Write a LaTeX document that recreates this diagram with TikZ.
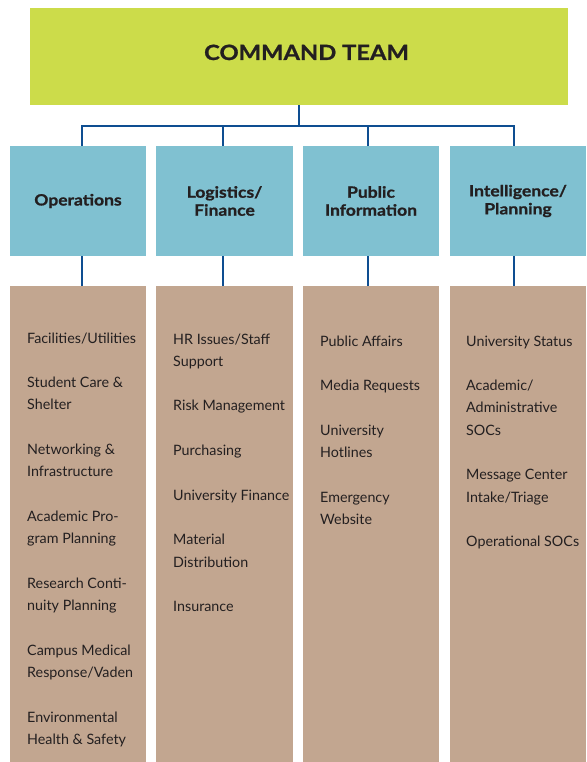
\documentclass[tikz,border=0pt]{standalone}
\usepackage{fontspec}
\setmainfont{Lato}
\newfontfamily\headfont[FakeStretch=1.13,FakeBold=1]{Lato}
\definecolor{lime}{RGB}{204,220,74}
\definecolor{secblue}{RGB}{128,193,209}
\definecolor{tan}{RGB}{194,166,144}
\definecolor{connblue}{RGB}{14,78,145}
\definecolor{ink}{RGB}{35,31,32}
\newcommand\isep{\\[22.3pt]}
\begin{document}
\begin{tikzpicture}[x=1pt,y=-1pt,
  cmdbox/.style={fill=lime, draw=none, inner sep=0, minimum width=538pt, minimum height=97pt},
  secbox/.style={fill=secblue, draw=none, inner sep=0, minimum height=110pt, text=ink, align=center,
    font=\headfont\bfseries\fontsize{15.5}{18}\selectfont},
  listbox/.style={fill=tan, draw=none, inner sep=0, minimum height=476pt},
  items/.style={inner sep=0, anchor=base west, text=ink, font=\fontsize{14.3}{22.3}\selectfont},
  titletext/.style={inner sep=0, anchor=base, text=ink, font=\headfont\bfseries\fontsize{21}{24}\selectfont},
  conn/.style={draw=connblue, line width=2.6pt}
]
\useasboundingbox (0,0) rectangle (586,762);
\fill[white] (0,0) rectangle (586,762);

% command team
\node[cmdbox] (cmd) at (299,56.5) {};
\node[titletext] (cmdtext) at (306.5,60) {COMMAND TEAM};

% section boxes
\node[secbox, minimum width=136pt] (ops) at (78,201) {Operations};
\node[secbox, minimum width=137pt] (log) at (224.5,201) {Logistics/\\Finance};
\node[secbox, minimum width=136pt] (pub) at (371,201) {Public\\Information};
\node[secbox, minimum width=136pt] (int) at (518,201) {Intelligence/\\Planning};

% list boxes
\node[listbox, minimum width=136pt] (opsl) at (78,524) {};
\node[listbox, minimum width=137pt] (logl) at (224.5,524) {};
\node[listbox, minimum width=136pt] (publ) at (371,524) {};
\node[listbox, minimum width=136pt] (intl) at (518,524) {};

% connectors
\draw[conn] (cmd.south) -- ++(0,21) -| ([xshift=4pt]ops.north);
\draw[conn] (cmd.south) -- ++(0,21) -| ([xshift=-1.5pt]log.north);
\draw[conn] (cmd.south) -- ++(0,21) -| ([xshift=-3pt]pub.north);
\draw[conn] (cmd.south) -- ++(0,21) -| ([xshift=-4pt]int.north);
\draw[conn] ([xshift=4pt]ops.south) -- ([xshift=4pt]opsl.north);
\draw[conn] ([xshift=-1.5pt]log.south) -- ([xshift=-1.5pt]logl.north);
\draw[conn] ([xshift=-3pt]pub.south) -- ([xshift=-3pt]publ.north);
\draw[conn] ([xshift=-4pt]int.south) -- ([xshift=-4pt]intl.north);

% list texts
\node[items] (opsitems) at (27,343) {\parbox[t]{160pt}{\raggedright
Facilities/Utilities\isep
Student Care \&\\Shelter\isep
Networking \&\\Infrastructure\isep
Academic Pro-\\gram Planning\isep
Research Conti-\\nuity Planning\isep
Campus Medical\\Response/Vaden\isep
Environmental\\Health \& Safety}};
\node[items] (logitems) at (173,344) {\parbox[t]{160pt}{\raggedright
HR Issues/Staff\\Support\isep
Risk Management\isep
Purchasing\isep
University Finance\isep
Material\\Distribution\isep
Insurance}};
\node[items] (pubitems) at (320,346) {\parbox[t]{160pt}{\raggedright
Public Affairs\isep
Media Requests\isep
University\\Hotlines\isep
Emergency\\Website}};
\node[items] (intitems) at (466,346) {\parbox[t]{160pt}{\raggedright
University Status\isep
Academic/\\Administrative\\SOCs\isep
Message Center\\Intake/Triage\isep
Operational SOCs}};
\end{tikzpicture}
\end{document}
